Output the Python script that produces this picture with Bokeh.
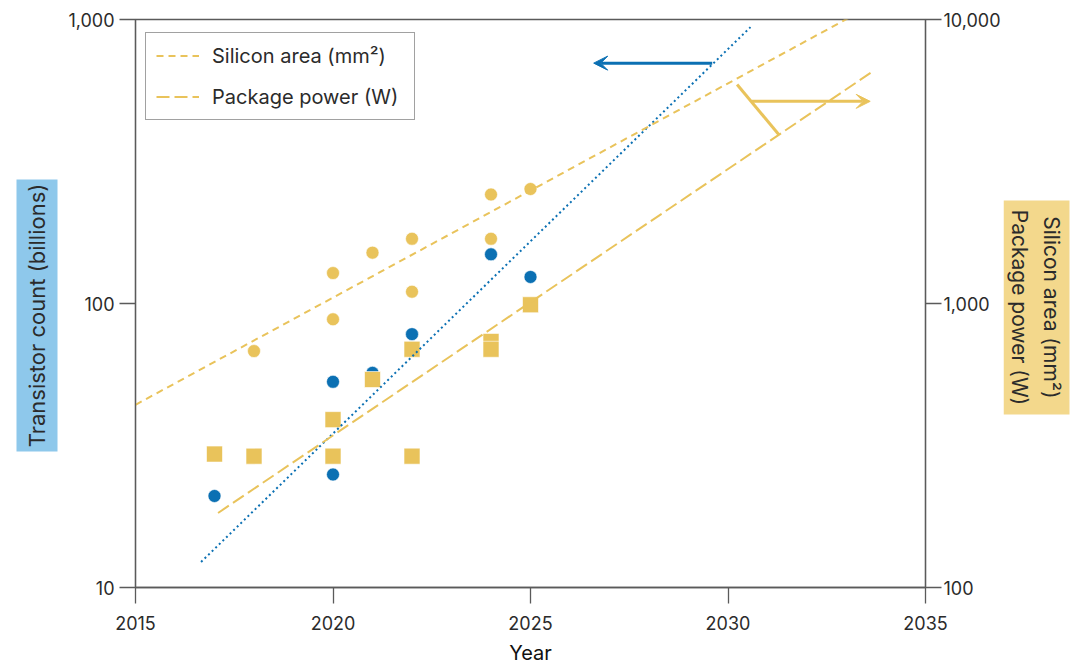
from math import pi
from bokeh.plotting import figure
from bokeh.layouts import row
from bokeh.models import (Range1d, LogScale, LogAxis, FixedTicker, NumeralTickFormatter,
                          Legend, LegendItem, Arrow, VeeHead)
from bokeh.core.properties import value
from bokeh.embed import file_html
from bokeh.resources import INLINE

# ---------------- data ----------------
transistor_years = [2017, 2020, 2020, 2021, 2022, 2024, 2025]
transistor_billions = [21, 25, 53, 57, 78, 149, 124]

silicon_years = [2018, 2020, 2020, 2021, 2022, 2022, 2024, 2024, 2025]
silicon_area_mm2 = [680, 1280, 880, 1510, 1690, 1100, 2420, 1690, 2530]

power_years = [2017, 2018, 2020, 2020, 2021, 2022, 2022, 2024, 2024, 2025]
package_power_w = [295, 290, 390, 290, 540, 690, 290, 735, 690, 990]

transistor_trend_years = [2016.66, 2030.57]
transistor_trend_values = [12.3, 940]
silicon_trend_years = [2015, 2035]
silicon_trend_values = [440, 14200]
power_trend_years = [2017.09, 2033.69]
power_trend_values = [183, 6600]

x_ticks = [2015, 2020, 2025, 2030, 2035]
left_ticks = [10, 100, 1000]
right_ticks = [100, 1000, 10000]

left_title = "Transistor count (billions)"
right_title = "Silicon area (mm²)\nPackage power (W)"

# annotation arrows (data coords, left axis units)
blue_arrow = dict(x0=2029.6, x1=2026.6, y=702)
gold_arrow = dict(x0=2030.6, x1=2033.6, y=515)
gold_bracket = dict(x0=2030.23, y0=590, x1=2031.29, y1=393)

BLUE = "#0B70B3"
GOLD = "#E9C35B"
AXIS = "#5a5a5a"
TEXT = "#2b2b2b"
FONT = "Inter"
TOP, FRAME_H, BOTTOM = 19, 568, 85

p = figure(frame_width=790, frame_height=FRAME_H,
           x_range=Range1d(2015, 2035), y_range=Range1d(10, 1000),
           y_axis_type="log", output_backend="svg", toolbar_location=None,
           min_border_left=75, min_border_right=75, min_border_top=TOP,
           min_border_bottom=BOTTOM, background_fill_color="white",
           border_fill_color="white")
p.grid.visible = False
p.outline_line_color = AXIS
p.outline_line_width = 1.3

p.extra_y_ranges = {"right": Range1d(100, 10000)}
p.extra_y_scales = {"right": LogScale()}
right_axis = LogAxis(y_range_name="right")
p.add_layout(right_axis, "right")

p.xaxis.ticker = FixedTicker(ticks=x_ticks, minor_ticks=[])
p.yaxis[0].ticker = FixedTicker(ticks=left_ticks, minor_ticks=[])
right_axis.ticker = FixedTicker(ticks=right_ticks, minor_ticks=[])
p.yaxis[0].formatter = NumeralTickFormatter(format="0,0")
right_axis.formatter = NumeralTickFormatter(format="0,0")

for ax in [p.xaxis[0], p.yaxis[0], right_axis]:
    ax.axis_line_color = AXIS
    ax.axis_line_width = 1.3
    ax.major_tick_line_color = AXIS
    ax.major_tick_line_width = 1.3
    ax.major_tick_out = 16
    ax.major_tick_in = 0
    ax.minor_tick_line_color = None
    ax.major_label_text_font = FONT
    ax.major_label_text_font_size = "18px"
    ax.major_label_text_color = TEXT
p.xaxis.major_label_standoff = 12
p.yaxis[0].major_label_standoff = 5
right_axis.major_label_standoff = 2

p.xaxis.axis_label = "Year"
p.xaxis.axis_label_text_font = FONT
p.xaxis.axis_label_text_font_size = "20px"
p.xaxis.axis_label_text_font_style = "normal"
p.xaxis.axis_label_text_color = "#111111"
p.xaxis.axis_label_standoff = 8

# markers
p.scatter(transistor_years, transistor_billions, marker="circle", size=13,
          fill_color=BLUE, line_color="white", line_width=0.6)
p.scatter(silicon_years, silicon_area_mm2, marker="circle", size=13,
          fill_color=GOLD, line_color="white", line_width=0.6, y_range_name="right")
p.scatter(power_years, package_power_w, marker="square", size=16,
          fill_color=GOLD, line_color="white", line_width=0.6, y_range_name="right")

# trend lines
p.line(transistor_trend_years, transistor_trend_values, line_color=BLUE,
       line_width=2, line_dash="2 3")
r_si = p.line(silicon_trend_years, silicon_trend_values, line_color=GOLD,
              line_width=2, line_dash="7 5", y_range_name="right")
r_pw = p.line(power_trend_years, power_trend_values, line_color=GOLD,
              line_width=2, line_dash="13 5", y_range_name="right")

# arrows
p.add_layout(Arrow(x_start=blue_arrow["x0"], y_start=blue_arrow["y"],
                   x_end=blue_arrow["x1"], y_end=blue_arrow["y"],
                   line_color=BLUE, line_width=3,
                   end=VeeHead(size=14, fill_color=BLUE, line_color=BLUE)))
p.add_layout(Arrow(x_start=gold_arrow["x0"], y_start=gold_arrow["y"],
                   x_end=gold_arrow["x1"], y_end=gold_arrow["y"],
                   line_color=GOLD, line_width=3,
                   end=VeeHead(size=14, fill_color=GOLD, line_color=GOLD)))
p.segment(x0=[gold_bracket["x0"]], y0=[gold_bracket["y0"]],
          x1=[gold_bracket["x1"]], y1=[gold_bracket["y1"]],
          line_color=GOLD, line_width=3)

# legend
legend = Legend(items=[LegendItem(label="Silicon area (mm²)", renderers=[r_si]),
                       LegendItem(label="Package power (W)", renderers=[r_pw])],
                location=(10, 467))
legend.border_line_color = "#444444"
legend.border_line_width = 1
legend.background_fill_alpha = 1
legend.label_text_font = FONT
legend.label_text_font_size = "20px"
legend.label_text_color = TEXT
legend.glyph_width = 43
legend.glyph_height = 25
legend.label_height = 25
legend.label_width = 192
legend.spacing = 16
legend.padding = 10
legend.margin = 0
legend.label_standoff = 13
p.add_layout(legend, "center")


def side_panel(width):
    # y data coordinates equal page pixel rows (frame aligned with main frame)
    f = figure(frame_width=width, frame_height=FRAME_H,
               x_range=Range1d(0, width), y_range=Range1d(TOP + FRAME_H, TOP),
               min_border_left=0, min_border_right=0, min_border_top=TOP,
               min_border_bottom=BOTTOM, x_axis_location=None, y_axis_location=None,
               output_backend="svg", toolbar_location=None)
    f.grid.visible = False
    f.outline_line_color = None
    f.background_fill_color = "white"
    f.border_fill_color = "white"
    return f


# left title box
lf = side_panel(60)
lf.quad(left=[16], right=[57], top=[179], bottom=[451],
        fill_color="#8EC8EB", line_color=None)
lf.text(x=[36.5], y=[315], text=[left_title], angle=pi / 2,
        text_align="center", text_baseline="middle", text_font=value(FONT),
        text_font_size=value("22px"), text_color=TEXT)

# right title box
rf = side_panel(72)
rf.quad(left=[0], right=[66], top=[200], bottom=[414],
        fill_color="#F3D88C", line_color=None)
rf.text(x=[32], y=[307], text=[right_title], angle=-pi / 2,
        text_align="center", text_baseline="middle", text_font=value(FONT),
        text_font_size=value("21px"), text_color=TEXT, text_line_height=1.25)

layout = row(lf, p, rf, spacing=0)
open("out.html", "w").write(file_html(layout, INLINE))
